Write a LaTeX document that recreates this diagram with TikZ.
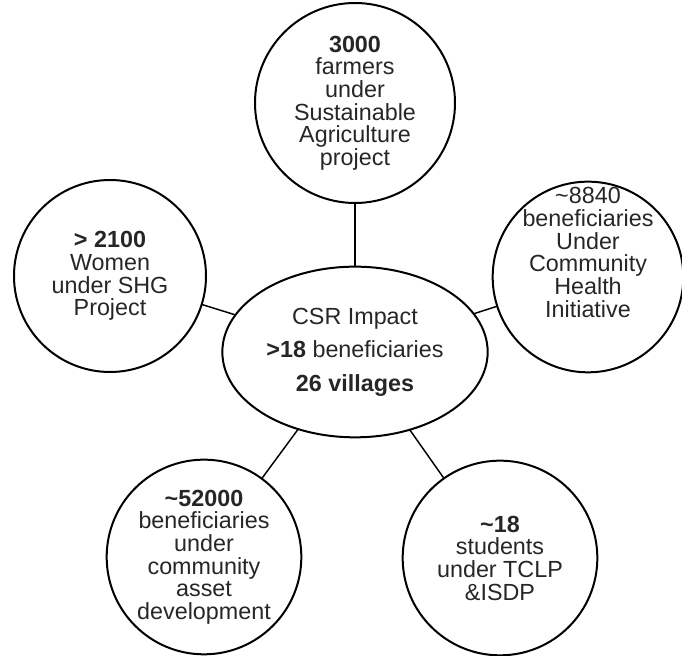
\documentclass[tikz,border=0pt]{standalone}
\usepackage{fontspec}
\setmainfont{Liberation Sans}
\usepackage{tikz}
\usetikzlibrary{shapes.geometric}

\begin{document}
\begin{tikzpicture}[
  x=0.75pt, y=0.75pt,
  font=\fontsize{17.5}{17}\selectfont,
  bub/.style ={draw, circle, line width=1.5pt, align=center, inner sep=0pt,
               outer sep=0pt, minimum size=146pt, text=black!85},
  hub/.style ={draw, ellipse, line width=1.5pt, align=center, inner sep=0pt,
               outer sep=0pt, minimum width=199pt, minimum height=128pt,
               text=black!85, font=\fontsize{17.5}{25}\selectfont},
  link/.style={line width=1.1pt}
]
\useasboundingbox (0,0) rectangle (682,656);

\node[hub] (csr) at (355,304)
      {CSR Impact\\\textbf{>18} beneficiaries\\\textbf{26 villages}};

\node[bub, minimum size=150pt] (farm) at (355,553)
      {\textbf{3000}\\farmers\\under\\Sustainable\\Agriculture\\project};
\node[bub, minimum size=144pt] (shg) at (110,380)
      {\textbf{> 2100}\\Women\\under SHG\\Project};
\node[bub, minimum size=143pt, inner ysep=-25pt] (health) at (588,379)
      {\textasciitilde8840\\beneficiaries\\Under\\Community\\Health\\Initiative\\[20pt]\mbox{}};
\node[bub] (asset) at (204,99)
      {\textbf{\textasciitilde52000}\\beneficiaries\\under\\community\\asset\\development};
\node[bub] (tclp) at (500,98)
      {\textbf{\textasciitilde18}\\students\\under TCLP\\\&ISDP};

\draw[link] (farm)   -- (csr);
\draw[link] (shg)    -- (csr);
\draw[link] (health) -- (csr);
\draw[link] (asset)  -- (csr);
\draw[link] (tclp)   -- (csr);
\end{tikzpicture}
\end{document}
